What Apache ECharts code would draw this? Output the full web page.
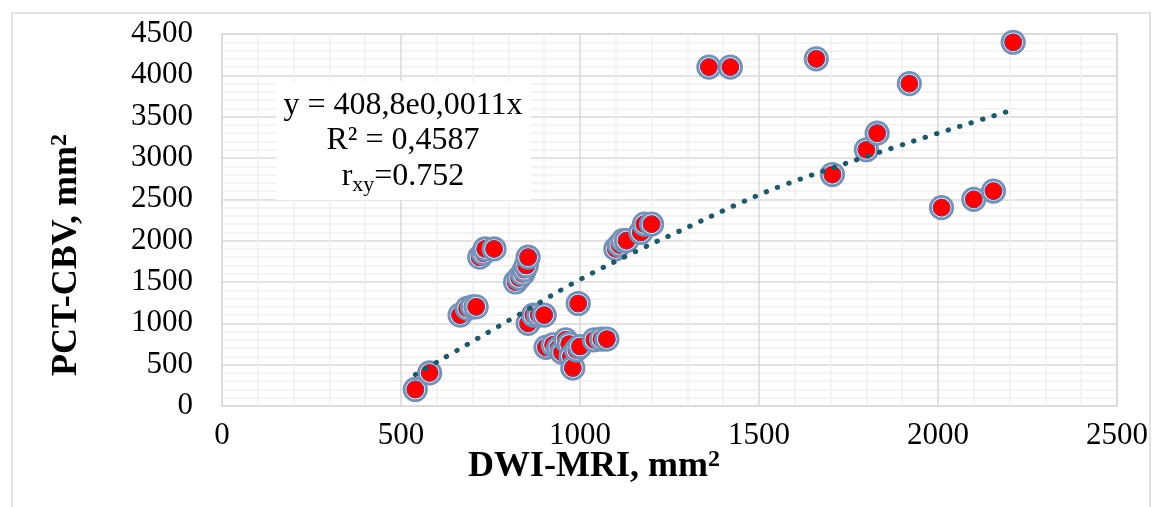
<!DOCTYPE html>
<html>
<head>
<meta charset="utf-8">
<script src="https://cdn.jsdelivr.net/npm/echarts@6/dist/echarts.min.js"></script>
<style>
html,body{margin:0;padding:0;background:#fff;}
#chart{width:1160px;height:507px;}
</style>
</head>
<body>
<div id="chart"></div>
<script>
// DWI-MRI area (mm²) for each patient
const dwi = [540, 580,
  665, 685, 700, 710,
  720, 730, 735, 760,
  820, 830, 840, 845, 850, 855,
  855, 870, 885, 900,
  995,
  905, 925, 940, 950, 960, 970, 975, 980, 990, 1000, 1040, 1060, 1075,
  1100, 1110, 1120, 1130, 1170, 1180, 1200,
  1360, 1420, 1660, 1920,
  1705, 1800, 1830,
  2010, 2100, 2155, 2210];
// PCT-CBV area (mm²) for each patient
const pct = [200, 400,
  1100, 1180, 1200, 1200,
  1800, 1850, 1900, 1900,
  1500, 1550, 1600, 1650, 1700, 1800,
  1000, 1100, 1100, 1100,
  1240,
  710, 740, 700, 650, 800, 750, 600, 460, 680, 720, 800, 810, 810,
  1900, 1950, 2000, 2000, 2100, 2200, 2200,
  4100, 4100, 4200, 3900,
  2800, 3100, 3300,
  2400, 2500, 2600, 4400];
// trendline
const trendX = [540, 855, 1000, 1180, 1270, 1455, 1580, 1900, 2200];
const trendY = [380, 1170, 1530, 1920, 2100, 2470, 2690, 3160, 3570];
// axis ticks
const xTicks = [0, 500, 1000, 1500, 2000, 2500];
const yTicks = [0, 500, 1000, 1500, 2000, 2500, 3000, 3500, 4000, 4500];
// texts
const xTitle = 'DWI-MRI, mm{sup|2}';
const yTitle = 'PCT-CBV, mm{sup|2}';
const annotationLines = ['y = 408,8e0,0011x', 'R² = 0,4587', '{r|r}{sub|xy}{r|=0.752}'];

const points = dwi.map((x, i) => [x, pct[i]]);
const trend = trendX.map((x, i) => [x, trendY[i]]);

const serif = '"Liberation Serif", "Times New Roman", serif';
const titleRich = {
  b: {fontFamily: serif, fontSize: 36, fontWeight: 'bold', fill: '#000'},
  sup: {fontFamily: serif, fontSize: 24, fontWeight: 'bold', fill: '#000', padding: [0, 0, 14, 0]}
};
const chart = echarts.init(document.getElementById('chart'));
chart.setOption({
  animation: false,
  backgroundColor: '#fff',
  grid: {left: 222, right: 43, top: 34, bottom: 101, show: true, borderColor: '#d9d9d9', borderWidth: 1.5},
  xAxis: {
    type: 'value', min: xTicks[0], max: xTicks[xTicks.length - 1], interval: 500,
    axisLine: {show: false}, axisTick: {show: false},
    axisLabel: {fontFamily: serif, fontSize: 31, color: '#000', margin: 14, formatter: v => String(v)},
    splitLine: {show: true, lineStyle: {color: '#d9d9d9', width: 1.5}},
    minorTick: {show: false, splitNumber: 5},
    minorSplitLine: {show: true, lineStyle: {color: '#efefef', width: 1.5}}
  },
  yAxis: {
    type: 'value', min: yTicks[0], max: yTicks[yTicks.length - 1], interval: 500,
    axisLine: {show: false}, axisTick: {show: false},
    axisLabel: {fontFamily: serif, fontSize: 31, color: '#000', margin: 29, formatter: v => String(v)},
    splitLine: {show: true, lineStyle: {color: '#d9d9d9', width: 1.5}},
    minorTick: {show: false, splitNumber: 5},
    minorSplitLine: {show: true, lineStyle: {color: '#efefef', width: 1.5}}
  },
  series: [
    {
      type: 'line', data: trend, smooth: 0.4, symbol: 'none', z: 3,
      lineStyle: {color: '#1f5868', width: 5, type: [0.5, 11.5], cap: 'round'}
    },
    {
      type: 'custom', data: points, z: 2,
      renderItem: function (params, api) {
        const p = api.coord([api.value(0), api.value(1)]);
        return {type: 'group', children: [
          {type: 'circle', shape: {cx: p[0], cy: p[1], r: 11.2}, style: {fill: '#ffffff', stroke: '#7591b8', lineWidth: 2.8}},
          {type: 'circle', shape: {cx: p[0], cy: p[1], r: 8.3}, style: {fill: '#ff0000', stroke: '#9c2d55', lineWidth: 1.6}}
        ]};
      }
    }
  ],
  graphic: [
    {type: 'rect', shape: {x: 12, y: 13, width: 1138, height: 520}, style: {fill: 'none', stroke: '#d9d9d9', lineWidth: 1.5}, silent: true, z: -10},
    {type: 'text', x: 594, y: 467, z: 51, style: {text: '{b|' + xTitle.replace('{sup|', '}{sup|'), rich: titleRich, align: 'center', verticalAlign: 'middle'}},
    {type: 'text', x: 67, y: 255, rotation: Math.PI / 2, z: 51, style: {text: '{b|' + yTitle.replace('{sup|', '}{sup|'), rich: titleRich, align: 'center', verticalAlign: 'middle'}},
    {type: 'rect', shape: {x: 276, y: 81, width: 255, height: 119}, style: {fill: '#ffffff'}, z: 50},
    {type: 'text', x: 403, y: 106, z: 51, style: {text: annotationLines[0], fontFamily: serif, fontSize: 32, fill: '#000', align: 'center', verticalAlign: 'middle'}},
    {type: 'text', x: 403, y: 141, z: 51, style: {text: annotationLines[1], fontFamily: serif, fontSize: 32, fill: '#000', align: 'center', verticalAlign: 'middle'}},
    {type: 'text', x: 403, y: 177, z: 51, style: {text: annotationLines[2], fontFamily: serif, fontSize: 32, fill: '#000', align: 'center', verticalAlign: 'middle',
      rich: {r: {fontFamily: serif, fontSize: 32, fill: '#000'}, sub: {fontFamily: serif, fontSize: 22, fill: '#000', padding: [16, 0, 0, 0]}}}}
  ]
});
</script>
</body>
</html>
